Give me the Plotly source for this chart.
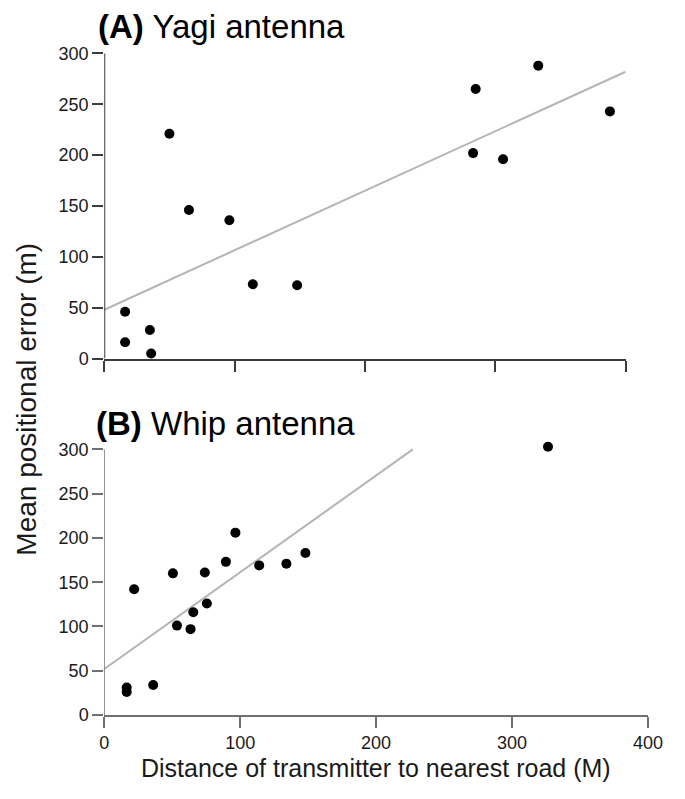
import plotly.graph_objects as go

# ---------- data ----------
yagi_distance = [16, 16, 35, 36, 50, 65, 96, 114, 148, 283, 285, 306, 333, 388]
yagi_error = [46, 16, 28, 5, 221, 146, 136, 73, 72, 202, 265, 196, 288, 243]
yagi_fit_x = [0, 400]
yagi_fit_y = [48, 282]

whip_distance = [16.5, 16.5, 22, 36, 50.5, 53.5, 63.5, 65.5, 74, 75.5, 89.5, 96.5, 114, 134, 148, 326.5]
whip_error = [31, 26, 142, 34, 160, 101, 97, 116, 161, 126, 173, 206, 169, 171, 183, 303]
whip_fit_x = [0, 227]
whip_fit_y = [52, 300]

y_ticks = [0, 50, 100, 150, 200, 250, 300]
x_ticks = [0, 100, 200, 300, 400]
y_top = 300
y_range_max = 312

W, H = 685, 799
OFF = 8  # default page body margin
FONT = "Liberation Sans, Arial, sans-serif"


def px_x(p):
    return (p - OFF) / W


def px_y(p):
    return 1 - (p - OFF) / H


def y_domain(p0, p300):
    # pixel of value 0 and of value 300 -> domain for range [0, y_range_max]
    p_top = p0 - (p0 - p300) * y_range_max / y_top
    return [px_y(p0), px_y(p_top)]


fig = go.Figure()

fig.add_trace(go.Scatter(x=yagi_fit_x, y=yagi_fit_y, mode="lines",
                         line=dict(color="#b4b4b4", width=2), xaxis="x", yaxis="y",
                         showlegend=False, hoverinfo="skip"))
fig.add_trace(go.Scatter(x=yagi_distance, y=yagi_error, mode="markers",
                         marker=dict(color="black", size=10), xaxis="x", yaxis="y",
                         showlegend=False, cliponaxis=False))
fig.add_trace(go.Scatter(x=whip_fit_x, y=whip_fit_y, mode="lines",
                         line=dict(color="#b4b4b4", width=2), xaxis="x2", yaxis="y2",
                         showlegend=False, hoverinfo="skip"))
fig.add_trace(go.Scatter(x=whip_distance, y=whip_error, mode="markers",
                         marker=dict(color="black", size=10), xaxis="x2", yaxis="y2",
                         showlegend=False, cliponaxis=False))

TOP_C, TOP_W = "#3c3c3c", 2
BOT_C, BOT_W = "#707070", 1.5

fig.update_layout(
    width=W, height=H,
    margin=dict(l=0, r=0, t=0, b=0),
    paper_bgcolor="white", plot_bgcolor="white",
    font=dict(family=FONT, color="#1a1a1a"),
    xaxis=dict(domain=[px_x(102), px_x(639)], range=[0, 400], tickvals=x_ticks,
               showticklabels=False, anchor="y", showline=True, linecolor=TOP_C,
               linewidth=TOP_W, ticks="outside", ticklen=11, tickwidth=TOP_W,
               tickcolor=TOP_C, showgrid=False, zeroline=False),
    yaxis=dict(domain=y_domain(363, 54), range=[0, y_range_max], tickvals=y_ticks,
               tickfont=dict(size=18, color="#1a1a1a"), anchor="x", showline=False,
               ticks="outside", ticklen=11, tickwidth=TOP_W, tickcolor=TOP_C,
               showgrid=False, zeroline=False),
    xaxis2=dict(domain=[px_x(102), px_x(662)], range=[0, 400], tickvals=x_ticks,
                tickfont=dict(size=18, color="#1a1a1a"), anchor="y2", showline=True,
                linecolor=BOT_C, linewidth=BOT_W, ticks="outside", ticklen=11,
                tickwidth=BOT_W, tickcolor=BOT_C, showgrid=False, zeroline=False),
    yaxis2=dict(domain=y_domain(724, 455), range=[0, y_range_max], tickvals=y_ticks,
                tickfont=dict(size=18, color="#1a1a1a"), anchor="x2", showline=False,
                ticks="outside", ticklen=11, tickwidth=BOT_W, tickcolor=BOT_C,
                showgrid=False, zeroline=False),
)

# y axis lines that stop at the 300 tick
fig.add_shape(type="line", xref="x", yref="y", x0=0, x1=0, y0=0, y1=y_top,
              line=dict(color=TOP_C, width=TOP_W), layer="above")
fig.add_shape(type="line", xref="x2", yref="y2", x0=0, x1=0, y0=0, y1=y_top,
              line=dict(color=BOT_C, width=BOT_W), layer="above")

fig.add_annotation(x=px_x(93), y=px_y(27), xref="paper", yref="paper",
                   xanchor="left", yanchor="middle", showarrow=False,
                   text="<b>(A)</b> Yagi antenna", font=dict(size=33, color="black", family=FONT))
fig.add_annotation(x=px_x(91), y=px_y(429), xref="paper", yref="paper",
                   xanchor="left", yanchor="middle", showarrow=False,
                   text="<b>(B)</b> Whip antenna", font=dict(size=33, color="black", family=FONT))
fig.add_annotation(x=px_x(21), y=px_y(404), xref="paper", yref="paper",
                   xanchor="center", yanchor="middle", showarrow=False, textangle=-90,
                   text="Mean positional error (m)", font=dict(size=28, color="#1a1a1a", family=FONT))
fig.add_annotation(x=px_x(382), y=px_y(778), xref="paper", yref="paper",
                   xanchor="center", yanchor="middle", showarrow=False,
                   text="Distance of transmitter to nearest road (M)",
                   font=dict(size=25, color="#1a1a1a", family=FONT))

fig.write_html("out.html")
